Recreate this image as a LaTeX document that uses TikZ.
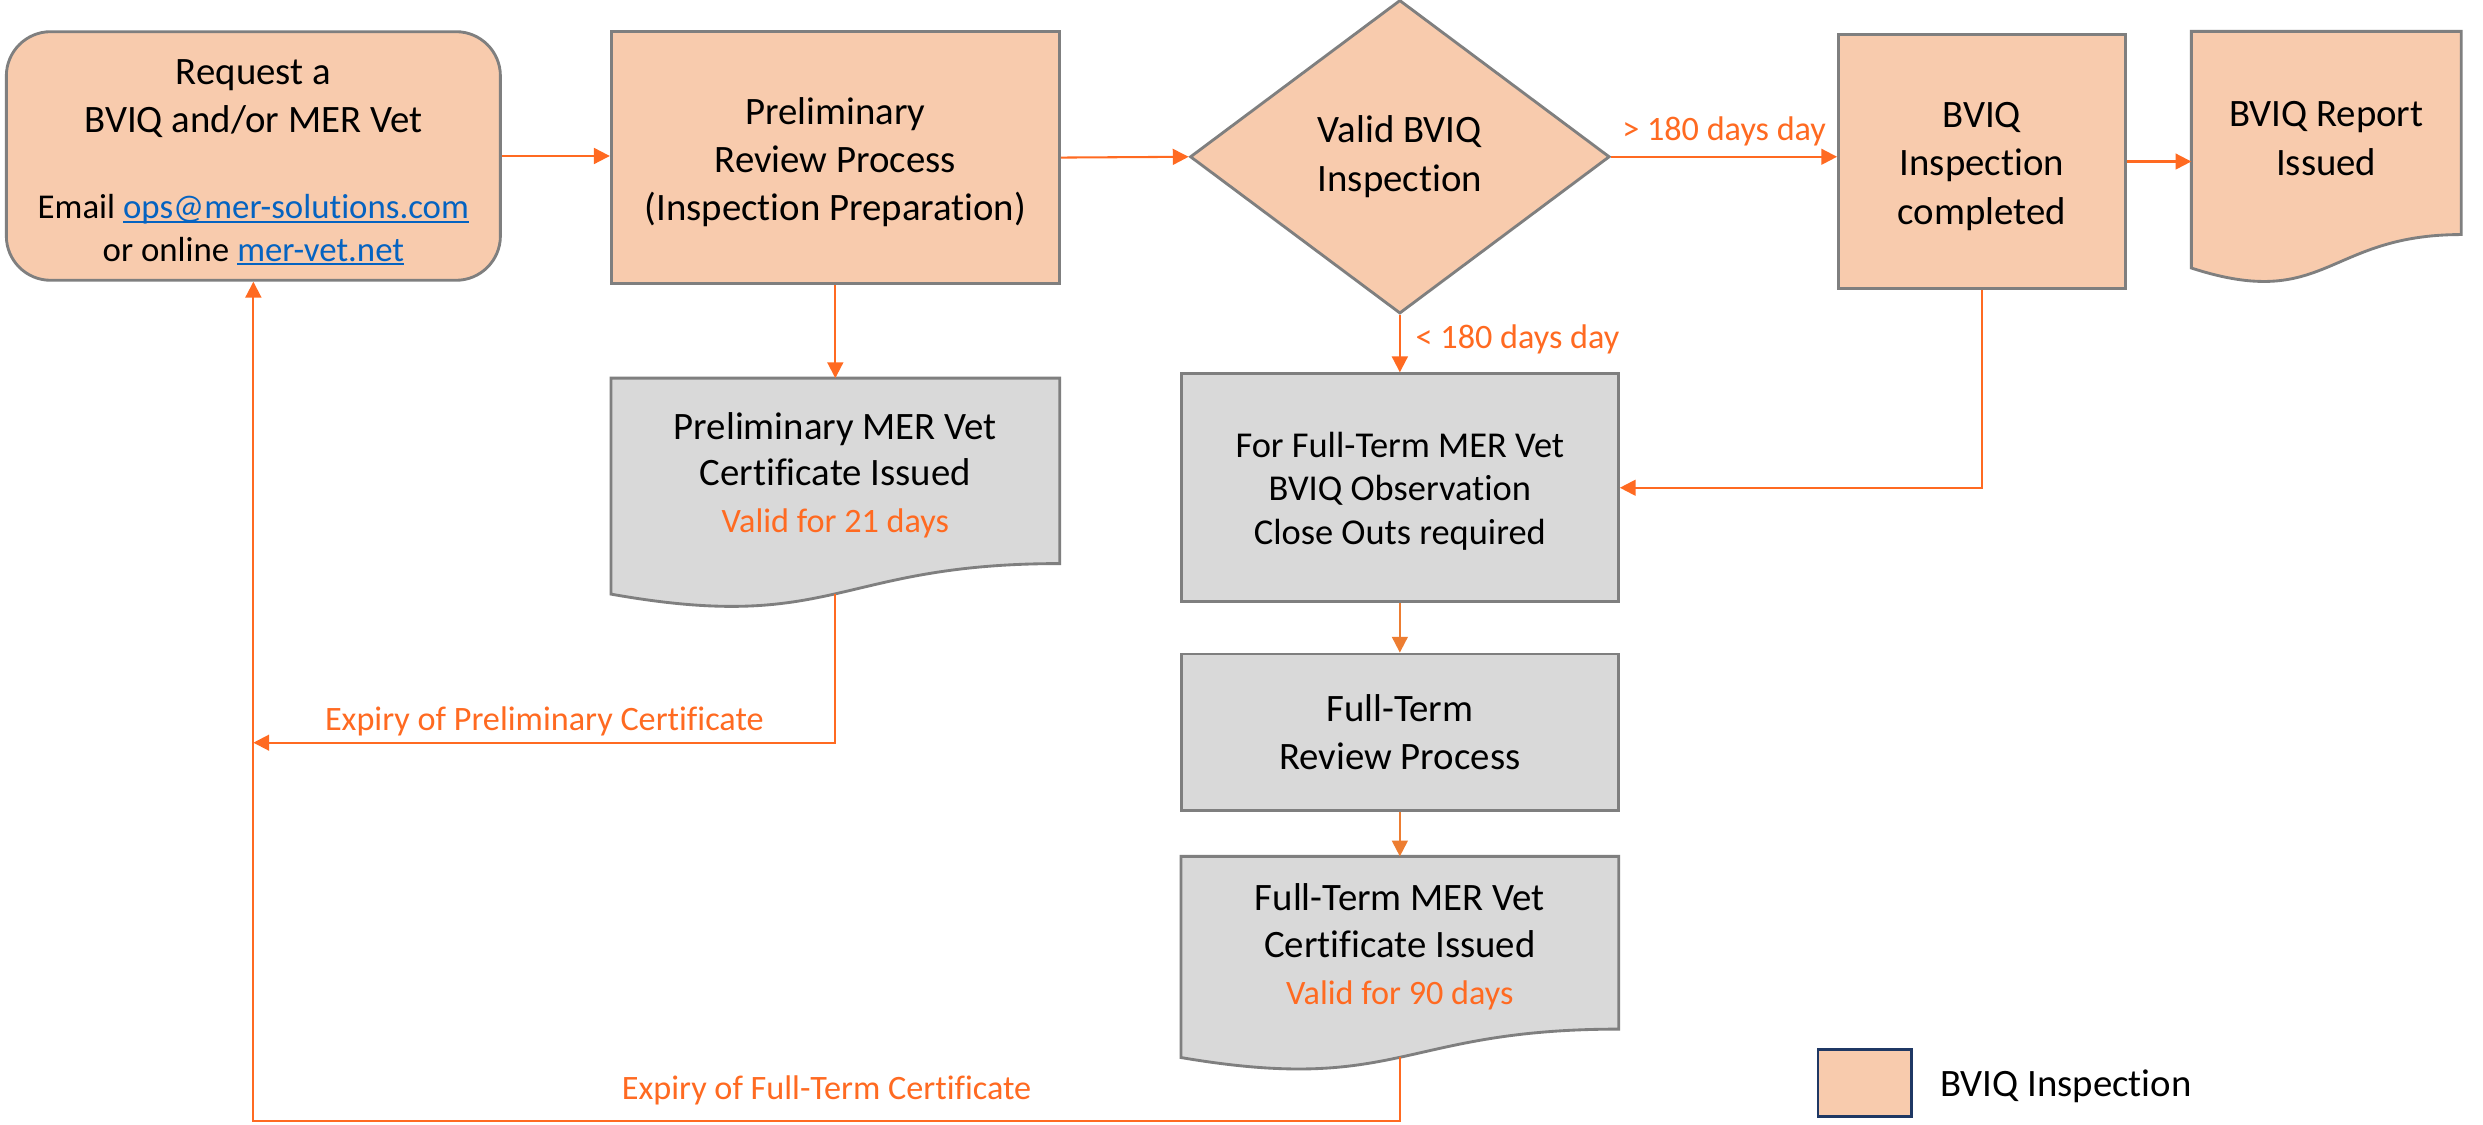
\documentclass[tikz,border=0pt]{standalone}
\usepackage{fontspec}
\setmainfont{Carlito}[Ligatures={NoCommon}]
\usetikzlibrary{arrows.meta,calc,shapes.geometric}
\pgfdeclarelayer{background}
\pgfsetlayers{background,main}
\definecolor{peach}{HTML}{F8CBAD}
\definecolor{greyfill}{HTML}{D9D9D9}
\definecolor{border}{HTML}{7F7F7F}
\definecolor{orng}{HTML}{FF6A21}
\definecolor{acc}{HTML}{ED7D31}
\definecolor{linkblue}{HTML}{0563C1}
\definecolor{navy}{HTML}{1F3864}
\newcommand\mainfs{\fontsize{24.5pt}{30.5pt}\selectfont}
\newcommand\labfs{\fontsize{21.6pt}{26pt}\selectfont}
\newcommand\smallfs{\fontsize{22pt}{30.5pt}\selectfont}
\newsavebox\lnkbox
\newcommand\weblink[1]{\sbox\lnkbox{#1}\textcolor{linkblue}{\rlap{\rule[-2.8pt]{\wd\lnkbox}{1.3pt}}#1}}
\newcommand\docshape[3]{%
  \path[docfill, fill=#3] (#1.north west) -- (#1.north east)
    -- ($(#1.north east)+(0,-0.802*#2)$)
    .. controls ($(#1.north)+(0,-0.802*#2)$) and ($(#1.north)+(0,-1.107*#2)$)
    .. ($(#1.north west)+(0,-0.934*#2)$) -- cycle;
  \coordinate (#1w) at ($(#1.north)+(0,-0.933*#2)$);}
\tikzset{
  box/.style={draw=border, line width=1.8pt, fill=peach, align=center, font=\mainfs, inner sep=0pt},
  greybox/.style={box, fill=greyfill},
  textonly/.style={align=center, font=\mainfs, inner sep=0pt},
  docfill/.style={draw=border, line width=1.8pt},
  conn/.style={draw=orng, line width=1.3pt, -{Triangle[length=10pt,width=10pt]}},
  lab/.style={text=orng, font=\labfs},
}
\begin{document}
\begin{tikzpicture}[x=1pt,y=1pt]
\useasboundingbox (0,0) rectangle (1568,-710);
% nodes
\node[box, rounded corners=28pt, minimum width=312pt, minimum height=157pt] (A) at (160,-98.5)
  {\rule{0pt}{24pt}Request a\\BVIQ and/or MER Vet\\[23.5pt]{\smallfs Email \weblink{ops@mer-solutions.com}}\\[-3.5pt]{\smallfs or online \weblink{mer-vet.net}}};
\node[box, minimum width=283pt, minimum height=159pt] (B) at (527.5,-99.5)
  {\rule{0pt}{23pt}Preliminary\\Review Process\\(Inspection Preparation)};
\node[box, diamond, minimum width=265pt, minimum height=198pt] (C) at (884,-99)
  {Valid BVIQ\\Inspection};
\node[box, minimum width=181pt, minimum height=160pt] (D) at (1251.5,-102)
  {\rule{0pt}{22pt}BVIQ\\Inspection\\completed};
\node[textonly, minimum width=170pt, minimum height=135pt] (E) at (1469,-87.5)
  {BVIQ Report\\Issued};
\node[textonly, minimum width=283pt, minimum height=122pt, font=\fontsize{24.5pt}{29.5pt}\selectfont] (F) at (527.5,-300)
  {Preliminary MER Vet\\Certificate Issued\\{\labfs\color{orng}Valid for 21 days}};
\node[greybox, minimum width=276pt, minimum height=144pt, font=\fontsize{23pt}{27.5pt}\selectfont] (G) at (884,-308)
  {\rule{0pt}{20pt}For Full-Term MER Vet\\BVIQ Observation\\Close Outs required};
\node[greybox, minimum width=276pt, minimum height=99pt] (H) at (884,-462.5)
  {Full-Term\\Review Process};
\node[textonly, minimum width=276pt, minimum height=114pt, font=\fontsize{24.5pt}{29.5pt}\selectfont] (I) at (884,-598)
  {Full-Term MER Vet\\Certificate Issued\\{\labfs\color{orng}Valid for 90 days}};
\node[box, draw=navy, minimum width=59pt, minimum height=42pt] (L) at (1177.5,-684) {};
\node[textonly, anchor=west] (Lt) at (1225,-686) {BVIQ Inspection};
% document shapes behind their texts
\begin{pgfonlayer}{background}
\fill[white] (0,0) rectangle (1568,-710);
\docshape{E}{160}{peach}
\docshape{F}{146}{greyfill}
\docshape{I}{136}{greyfill}
\end{pgfonlayer}
% connectors
\coordinate (j1) at (160,-469);
\coordinate (j2) at (160,-708);
\draw[conn] (A.east) -- (A.east -| B.west);
\draw[conn] (B.east) -- (C.west);
\draw[conn] (C.east) -- node[lab, above, yshift=3pt]{> 180 days day} (C.east -| D.west);
\draw[conn] (D.east) -- (D.east -| E.west);
\draw[conn] (B.south) -- (F.north);
\draw[conn] (C.south) -- node[lab, right, xshift=6pt, yshift=3pt]{< 180 days day} (G.north);
\draw[conn] (D.south) |- (G.east);
\draw[conn, draw=acc] (G.south) -- (H.north);
\draw[conn, draw=acc] (H.south) -- (I.north);
\draw[conn] (Fw) |- node[lab, pos=0.75, above]{Expiry of Preliminary Certificate} (j1);
\draw[conn] (Iw) |- node[lab, pos=0.75, above, yshift=6pt]{Expiry of Full-Term Certificate} (j2) -- (A.south);
\end{tikzpicture}
\end{document}
